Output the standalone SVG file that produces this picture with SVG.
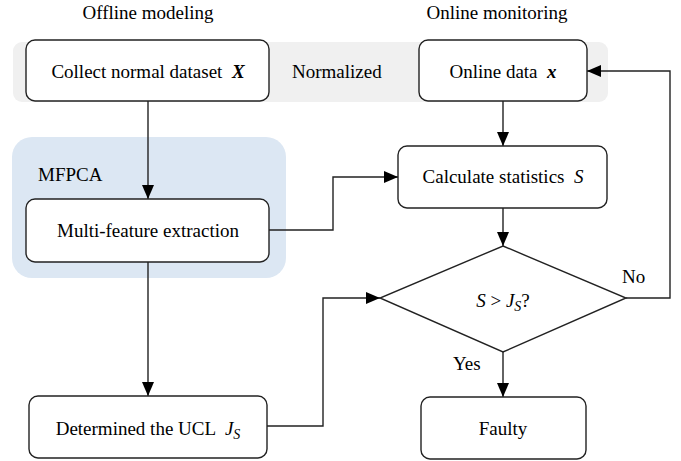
<svg xmlns="http://www.w3.org/2000/svg" width="681" height="461" viewBox="0 0 681 461" font-family="'Liberation Serif', serif" font-size="19">
  <style>
    .lbl { font-family: "Liberation Serif", serif; font-size: 19px; fill: #000; }
    .c { text-anchor: middle; }
    .box { fill: #fff; stroke: #222; stroke-width: 1.4; }
    .edge { fill: none; stroke: #222; stroke-width: 1.4; }
    .it { font-style: italic; }
    .bi { font-style: italic; font-weight: bold; }
  </style>
  <defs>
    <marker id="arrow" markerWidth="14" markerHeight="12" refX="14" refY="6" orient="auto" markerUnits="userSpaceOnUse">
      <path d="M0,0 L14,6 L0,12 Z" fill="#000"/>
    </marker>
  </defs>

  <!-- background regions -->
  <rect id="normalized-band" x="13" y="42" width="595" height="60" rx="9" fill="#f0f0f0"/>
  <rect id="mfpca-region" x="12" y="137" width="274" height="141" rx="20" fill="#dce7f3"/>

  <!-- section titles and free labels -->
  <text class="lbl c" x="148" y="19">Offline modeling</text>
  <text class="lbl c" x="497" y="19">Online monitoring</text>
  <text class="lbl" x="292" y="78">Normalized</text>
  <text class="lbl" x="38" y="181">MFPCA</text>
  <text class="lbl" x="453" y="370">Yes</text>
  <text class="lbl" x="622" y="283">No</text>

  <!-- connectors -->
  <g id="connectors">
    <path class="edge" d="M148,101 V199" marker-end="url(#arrow)"/>
    <path class="edge" d="M148,262 V396" marker-end="url(#arrow)"/>
    <path class="edge" d="M269,230 H333 V177 H398" marker-end="url(#arrow)"/>
    <path class="edge" d="M503,101 V146" marker-end="url(#arrow)"/>
    <path class="edge" d="M503,208 V246" marker-end="url(#arrow)"/>
    <path class="edge" d="M267,426 H323 V298 H380" marker-end="url(#arrow)"/>
    <path class="edge" d="M503,352 V397" marker-end="url(#arrow)"/>
    <path class="edge" d="M626,298 H670 V71 H587" marker-end="url(#arrow)"/>
  </g>

  <g id="collect">
    <rect class="box" x="26" y="40" width="243" height="61" rx="9"/>
    <text class="lbl c" x="148" y="78" xml:space="preserve">Collect normal dataset  <tspan class="bi">X</tspan></text>
  </g>

  <g id="online">
    <rect class="box" x="419" y="40" width="168" height="61" rx="9"/>
    <text class="lbl c" x="503" y="78" xml:space="preserve">Online data  <tspan class="bi">x</tspan></text>
  </g>

  <g id="multifeature">
    <rect class="box" x="26" y="199" width="243" height="63" rx="9"/>
    <text class="lbl c" x="148" y="237">Multi-feature extraction</text>
  </g>

  <g id="calculate">
    <rect class="box" x="398" y="146" width="209" height="62" rx="9"/>
    <text class="lbl c" x="503" y="183" xml:space="preserve">Calculate statistics  <tspan class="it">S</tspan></text>
  </g>

  <g id="decision">
    <polygon class="box" points="503,246 626,298 503,352 380,298"/>
    <text class="lbl c" x="503" y="307"><tspan class="it">S</tspan> &gt; <tspan class="it">J</tspan><tspan class="it" font-size="14" dy="4">S</tspan><tspan dy="-4">?</tspan></text>
  </g>

  <g id="ucl">
    <rect class="box" x="29" y="396" width="238" height="62" rx="9"/>
    <text class="lbl c" x="148" y="435" xml:space="preserve">Determined the UCL  <tspan class="it">J</tspan><tspan class="it" font-size="14" dy="4">S</tspan></text>
  </g>

  <g id="faulty">
    <rect class="box" x="421" y="397" width="165" height="62" rx="9"/>
    <text class="lbl c" x="503" y="435">Faulty</text>
  </g>
</svg>
